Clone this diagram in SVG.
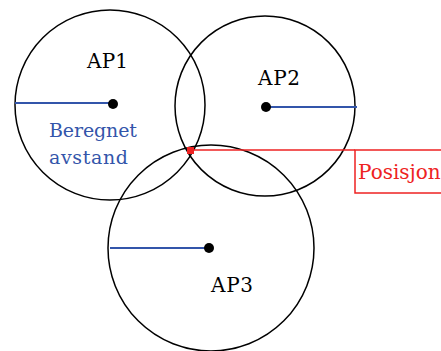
<svg xmlns="http://www.w3.org/2000/svg" width="441" height="351" viewBox="0 0 441 351">
<style>
.c{fill:none;stroke:#000;stroke-width:1.5}
.b{stroke:#3355aa;stroke-width:2}
.d{fill:#000}
.t{font-family:"DejaVu Serif",serif;font-size:20px;fill:#000}
.bl{font-family:"DejaVu Serif",serif;font-size:19px;fill:#3355aa}
.r{font-family:"DejaVu Serif",serif;font-size:20px;fill:#ee2222}
</style>
<rect width="441" height="351" fill="#fff"/>
<g id="AP1">
<circle class="c" cx="110" cy="105" r="95"/>
<line class="b" x1="15" y1="103" x2="113" y2="103"/>
<circle class="d" cx="113" cy="104" r="5"/>
<text class="t" x="87" y="68" textLength="41">AP1</text>
</g>
<g id="AP2">
<circle class="c" cx="265" cy="106" r="90"/>
<line class="b" x1="266" y1="107" x2="357" y2="107"/>
<circle class="d" cx="266" cy="107" r="5"/>
<text class="t" x="258" y="85" textLength="42">AP2</text>
</g>
<g id="AP3">
<circle class="c" cx="211" cy="248" r="103"/>
<line class="b" x1="110" y1="248" x2="209" y2="248"/>
<circle class="d" cx="209" cy="248" r="5"/>
<text class="t" x="211" y="292" textLength="42">AP3</text>
</g>
<g id="label">
<text class="bl" x="49" y="137" textLength="88">Beregnet</text>
<text class="bl" x="49" y="164" textLength="79">avstand</text>
</g>
<g id="connectors">
<line x1="190" y1="150" x2="355" y2="150" stroke="#ee2222" stroke-width="1.5"/>
</g>
<g id="Posisjon">
<rect x="187" y="147" width="7" height="7" fill="#ee2222"/>
<rect x="355" y="150" width="100" height="43" fill="none" stroke="#ee2222" stroke-width="1.5"/>
<text class="r" x="358" y="179">Posisjon</text>
</g>
</svg>
